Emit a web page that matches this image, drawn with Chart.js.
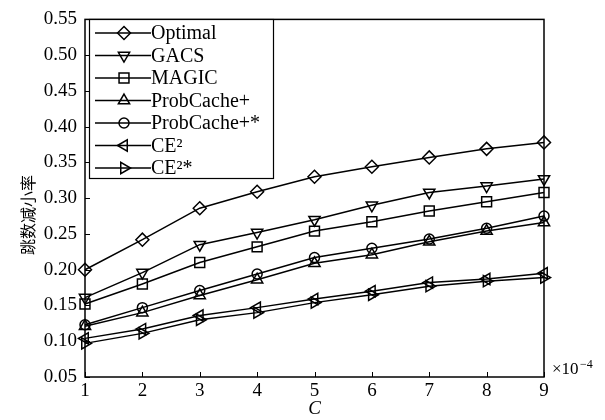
<!DOCTYPE html>
<html>
<head>
<meta charset="utf-8">
<script src="https://cdn.jsdelivr.net/npm/chart.js@4.4.1/dist/chart.umd.min.js"></script>
<style>
  html, body { margin: 0; padding: 0; background: #fff; }
  #wrap { width: 605px; height: 420px; }
</style>
</head>
<body>
<div id="wrap"><canvas id="hopChart" width="605" height="420"></canvas></div>
<script>
// Cache size C (x10^-4) and hop-count reduction ratio per scheme
var cValues = [1, 2, 3, 4, 5, 6, 7, 8, 9];
var optimal = [0.200, 0.242, 0.286, 0.309, 0.330, 0.344, 0.357, 0.369, 0.378];
var gacs = [0.161, 0.196, 0.235, 0.252, 0.270, 0.290, 0.308, 0.317, 0.327];
var magic = [0.152, 0.180, 0.210, 0.232, 0.254, 0.267, 0.282, 0.295, 0.308];
var probCache = [0.121, 0.140, 0.164, 0.186, 0.209, 0.221, 0.239, 0.254, 0.266];
var probCacheStar = [0.123, 0.147, 0.171, 0.194, 0.217, 0.230, 0.243, 0.258, 0.275];
var ce2 = [0.104, 0.117, 0.136, 0.147, 0.159, 0.170, 0.182, 0.187, 0.195];
var ce2Star = [0.097, 0.111, 0.130, 0.140, 0.154, 0.165, 0.177, 0.184, 0.189];

var seriesNames = ['Optimal', 'GACS', 'MAGIC', 'ProbCache+', 'ProbCache+*', 'CE\u00b2', 'CE\u00b2*'];
var yTicks = [0.05, 0.10, 0.15, 0.20, 0.25, 0.30, 0.35, 0.40, 0.45, 0.50, 0.55];

var serif = '"Liberation Serif", "Times New Roman", serif';

// marker shape for each series
var markers = [
    { style: 'rectRot', rotation: 0, radius: 6.5 },
    { style: 'triangle', rotation: 180, radius: 6.5 },
    { style: 'rect', rotation: 0, radius: 7 },
    { style: 'triangle', rotation: 0, radius: 6.5 },
    { style: 'circle', rotation: 0, radius: 5 },
    { style: 'triangle', rotation: 270, radius: 6.5 },
    { style: 'triangle', rotation: 90, radius: 6.5 }
];

function toPoints(values) {
    return cValues.map(function (c, i) { return { x: c, y: values[i] }; });
}

var allSeries = [optimal, gacs, magic, probCache, probCacheStar, ce2, ce2Star];
var datasets = allSeries.map(function (values, i) {
    return {
        label: seriesNames[i],
        data: toPoints(values),
        borderColor: '#000',
        borderWidth: 1.5,
        pointStyle: markers[i].style,
        pointRotation: markers[i].rotation,
        pointRadius: markers[i].radius,
        pointBorderWidth: 1.5,
        pointBorderColor: '#000',
        pointBackgroundColor: 'rgba(0,0,0,0)',
        tension: 0,
        clip: false
    };
});

// frame, inward ticks, legend box and extra labels
var framePlugin = {
    id: 'frame',
    afterDraw: function (chart) {
        var ctx = chart.ctx;
        var a = chart.chartArea;
        var xs = chart.scales.x, ys = chart.scales.y;
        ctx.save();
        ctx.strokeStyle = '#000';
        ctx.lineWidth = 1.5;
        ctx.strokeRect(a.left, a.top, a.right - a.left, a.bottom - a.top);

        ctx.lineWidth = 1;
        ctx.beginPath();
        yTicks.forEach(function (v) {
            var py = Math.round(ys.getPixelForValue(v)) + 0.5;
            ctx.moveTo(a.left, py);
            ctx.lineTo(a.left + 5, py);
        });
        cValues.forEach(function (c) {
            var px = Math.round(xs.getPixelForValue(c)) + 0.5;
            ctx.moveTo(px, a.bottom);
            ctx.lineTo(px, a.bottom - 5);
        });
        ctx.stroke();

        // legend
        var box = { x: 89, y: 19, w: 184, h: 159 };
        ctx.fillStyle = '#fff';
        ctx.fillRect(box.x, box.y, box.w, box.h);
        ctx.lineWidth = 1.2;
        ctx.strokeRect(box.x + 0.5, box.y + 0.5, box.w, box.h);
        ctx.font = '20px ' + serif;
        ctx.textBaseline = 'middle';
        ctx.textAlign = 'left';
        chart.data.datasets.forEach(function (ds, i) {
            var ry = box.y + 14 + i * 22.5;
            ctx.strokeStyle = '#000';
            ctx.lineWidth = 1.5;
            ctx.beginPath();
            ctx.moveTo(box.x + 6, ry);
            ctx.lineTo(box.x + 62, ry);
            ctx.stroke();
            ctx.fillStyle = 'rgba(0,0,0,0)';
            Chart.helpers.drawPoint(ctx, {
                pointStyle: ds.pointStyle,
                rotation: ds.pointRotation,
                radius: ds.pointRadius,
                borderWidth: 1.5
            }, box.x + 35, ry);
            ctx.fillStyle = '#000';
            ctx.fillText(ds.label, box.x + 62, ry + 1);
        });

        // exponent of the x axis
        ctx.fillStyle = '#000';
        ctx.textBaseline = 'alphabetic';
        ctx.font = '17px ' + serif;
        ctx.fillText('\u00d710', a.right + 8, 374);
        ctx.font = '12px ' + serif;
        ctx.fillText('\u22124', a.right + 36, 368);

        // y axis title
        ctx.translate(28, 215);
        ctx.rotate(-Math.PI / 2);
        ctx.textAlign = 'center';
        ctx.textBaseline = 'middle';
        ctx.font = '16px "Noto Sans CJK SC", sans-serif';
        ctx.fillText('跳数减小率', 0, 0);
        ctx.restore();
    }
};

var ctx = document.getElementById('hopChart').getContext('2d');
var hopChart = new Chart(ctx, {
    type: 'line',
    data: { datasets: datasets },
    options: {
        responsive: false,
        animation: false,
        layout: { padding: { top: 14, right: 61, left: 0, bottom: 0 } },
        plugins: { legend: { display: false }, tooltip: { enabled: false } },
        scales: {
            x: {
                type: 'linear',
                min: 1,
                max: 9,
                grid: { display: false, drawTicks: false },
                border: { display: false },
                ticks: {
                    stepSize: 1,
                    padding: 3,
                    color: '#000',
                    font: { family: serif, size: 19 }
                },
                title: {
                    display: true,
                    text: 'C',
                    color: '#000',
                    padding: 0,
                    font: { family: serif, size: 19, style: 'italic' }
                },
                afterFit: function (scale) { scale.height = 43; }
            },
            y: {
                min: 0.05,
                max: 0.55,
                grid: { display: false, drawTicks: false },
                border: { display: false },
                afterBuildTicks: function (scale) {
                    scale.ticks = yTicks.map(function (v) { return { value: v }; });
                },
                ticks: {
                    padding: 8,
                    color: '#000',
                    font: { family: serif, size: 19 },
                    callback: function (v) { return v.toFixed(2); }
                },
                afterFit: function (scale) { scale.width = 85; }
            }
        }
    },
    plugins: [framePlugin]
});
</script>
</body>
</html>
